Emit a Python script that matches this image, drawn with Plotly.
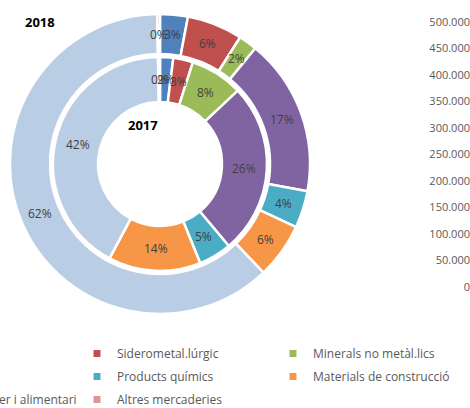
import math
import plotly.graph_objects as go

# categories in slice order (clockwise from the top), also legend order
categories = ["Petrolífer", "Siderometal.lúrgic", "Minerals no metàl.lics",
              "Energètic", "Products químics", "Materials de construcció",
              "Agroramader i alimentari", "Altres mercaderies"]
colors = ["#4F81BD", "#C0504D", "#9BBB59", "#8064A2",
          "#4BACC6", "#F79646", "#B9CDE5", "#D99694"]

# percentage shares read from the rings
share_2018 = [3, 6, 2, 17, 4, 6, 62, 0.3]
share_2017 = [2, 3, 8, 26, 5, 14, 42, 0.3]

# secondary value axis on the right (empty)
axis_ticks = [0, 50000, 100000, 150000, 200000, 250000,
              300000, 350000, 400000, 450000, 500000]

W, H = 470, 408
CX, CY = 160, 164          # centre of the rings, px from top-left
rings = [                  # (year, shares, outer radius, inner radius)
    ("2018", share_2018, 150, 110),
    ("2017", share_2017, 107, 62),
]

fig = go.Figure()
annotations = []

for year, shares, r_out, r_in in rings:
    fig.add_trace(go.Pie(
        labels=categories, values=shares, sort=False, direction="clockwise",
        rotation=0, hole=r_in / r_out,
        domain=dict(x=[(CX - r_out) / W, (CX + r_out) / W],
                    y=[(H - CY - r_out) / H, (H - CY + r_out) / H]),
        marker=dict(colors=colors, line=dict(color="white", width=2.5)),
        textinfo="none", showlegend=False, hoverinfo="label+percent",
        name=year,
    ))
    # etiquetes de percentatge al mig de cada sector (com Excel)
    total = sum(shares)
    r_mid = (r_out + r_in) / 2
    cum = 0
    for v in shares:
        ang = 2 * math.pi * (cum + v / 2) / total
        cum += v
        annotations.append(dict(
            text=f"{round(100 * v / total)}%",
            x=(CX + r_mid * math.sin(ang)) / W,
            y=(H - CY + r_mid * math.cos(ang)) / H,
            xref="paper", yref="paper", xanchor="center", yanchor="middle",
            showarrow=False, font=dict(size=12, color="#404040"),
        ))

annotations += [
    dict(text="<b>2018</b>", x=40 / W, y=(H - 22) / H, xref="paper", yref="paper",
         xanchor="center", yanchor="middle",
         showarrow=False, font=dict(size=13, color="black")),
    dict(text="<b>2017</b>", x=143 / W, y=(H - 125) / H, xref="paper", yref="paper",
         xanchor="center", yanchor="middle",
         showarrow=False, font=dict(size=13, color="black")),
]

# llegenda en tres columnes
legend_ids = ["legend", "legend2", "legend3"]
for i, (name, col) in enumerate(zip(categories, colors)):
    fig.add_trace(go.Scatter(
        x=[None], y=[None], mode="markers", name=name,
        marker=dict(symbol="square", size=7, color=col),
        legend=legend_ids[i % 3], legendgroup=name, showlegend=True,
    ))

legend_style = dict(
    font=dict(family="Open Sans, sans-serif", size=12, color="#595959"),
    bgcolor="rgba(0,0,0,0)", yanchor="top", y=(H - 339) / H,
    traceorder="grouped", tracegroupgap=4, itemwidth=30,
)

fig.update_layout(
    width=W, height=H,
    margin=dict(l=0, r=0, t=0, b=0, autoexpand=False),
    paper_bgcolor="white", plot_bgcolor="white",
    separators=",.",
    font=dict(family="Open Sans, sans-serif", color="#595959"),
    legend=dict(legend_style, x=82 / W, xanchor="right"),
    legend2=dict(legend_style, x=(117 - 40) / W, xanchor="left"),
    legend3=dict(legend_style, x=(313 - 40) / W, xanchor="left"),
    xaxis=dict(visible=False, domain=[0, 0.5], range=[0, 1]),
    yaxis=dict(
        side="left", anchor="free", position=1.0, color="#595959",
        domain=[(H - 287) / H, (H - 22) / H], range=[0, 500000],
        tickvals=axis_ticks, tickformat=",.0f",
        showgrid=False, zeroline=False, showline=False, ticks="", ticklen=0,
        tickfont=dict(size=11, color="#595959"),
    ),
    annotations=annotations,
)

fig.write_html("out.html", config={"displayModeBar": False},
               post_script="document.body.style.margin='0';")
